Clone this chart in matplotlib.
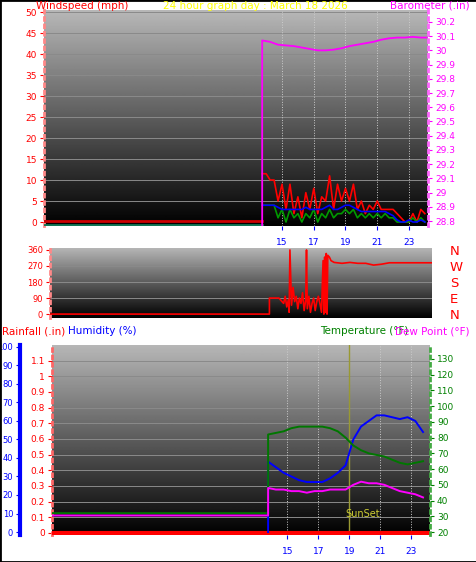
import numpy as np
import matplotlib
matplotlib.use("Agg")
import matplotlib.pyplot as plt

W, H = 477, 562

# --- data ---
hours_q = np.arange(13.75, 24.01, 0.25)          # quarter-hour samples
wind_gust = [11.5,11.5,10,10,5,9,3,9,2,6,1,7,3,8,2,6,5,11,3,9,5,8,5,9,3,5,2,4,3,5,
             3,3,3,3,2,1,0,0,2,0,3,2]
wind_avg = [4,4,4,4,3.5,3,3,3,3,3,3,3.5,3,3,3,3,3.5,4,3,3,3.5,4,4,3.5,3,2.5,2.5,2.5,
            2.5,2.5,2.5,2.5,2,1.5,0.5,0,0,0.5,0,0,0.5,0]
wind_speed = [4,4,4,4,1,3,0,3,1,2,0,2,1,3,0,2,1,3,1,2,2,3,2,3,1,2,1,2,1,2,1,2,1,1,
              0,0,0,0,1,0,1,0]

hours_h = np.arange(13.75, 24.0, 0.5)             # half-hour samples
baro = [30.07,30.06,30.04,30.035,30.03,30.02,30.01,30.0,30.0,30.005,30.015,30.03,
        30.04,30.05,30.06,30.075,30.085,30.09,30.09,30.095,30.09]
temp = [82,83,84,86,87,87,87,87,86,84,80,75,72,70,69,68,66,64,63,64,65]
humidity = [38,35,32,30,28,27,27,27,29,32,36,50,57,60,63,63,62,61,62,60,54]
dewpoint = [48,47,47,46,46,45,46,46,47,47,47,50,52,51,51,50,48,46,45,44,42]

dir_t = [13.9,13.9,14.5,14.8,14.9,15.0,15.1,15.15,15.2,15.3,15.4,15.5,15.6,15.7,15.8,
         15.9,16.0,16.1,16.2,16.25,16.3,16.4,16.5,16.6,16.7,16.8,16.9,17.0,17.1,17.2,
         17.3,17.35,17.4,17.45,17.5,17.55,17.6,17.7,17.8,18.0,18.5,19,19.5,20,20.5,
         21,21.5,22,23,24.2]
dir_v = [0,90,90,60,100,40,80,10,360,50,150,70,100,30,90,60,120,20,80,360,30,100,10,
         60,90,20,70,100,60,10,300,0,320,10,340,0,330,320,300,290,285,290,285,285,275,
         280,288,288,288,288]

hour_ticks = [15, 17, 19, 21, 23]
sunset = 19.0

fig = plt.figure(figsize=(W/100, H/100), dpi=100, facecolor="white")
fig.patches.append(plt.Rectangle((0, 0), 1, 1, transform=fig.transFigure,
                                 fill=False, ec="black", lw=2))

def box(x0, x1, y0, y1):
    return [x0/W, 1-y1/H, (x1-x0)/W, (y1-y0)/H]

grad = np.linspace(0, 0.72, 256).reshape(-1, 1)

def background(ax):
    ax.imshow(grad, cmap="gray", aspect="auto", origin="lower",
              extent=[0, 1, 0, 1], transform=ax.transAxes, zorder=0, vmin=0, vmax=1)
    ax.set_facecolor("black")

def style(ax, col, size=6.5):
    ax.tick_params(colors=col, labelcolor=col, labelsize=size, length=3, pad=2)
    for s in ax.spines.values():
        s.set_visible(False)

TS = 7.5

# ---------- panel 1: wind & barometer ----------
ax1 = fig.add_axes(box(44, 428, 10, 226))
background(ax1)
ax1.set_xlim(0, 24.2)
ax1.set_ylim(-0.95, 50.5)
ax1.set_yticks(range(0, 51, 5))
for y in range(5, 51, 5):
    ax1.axhline(y, color="#8a8a8a", lw=0.7, zorder=1)
for h in hour_ticks:
    ax1.axvline(h, color="#cccccc", lw=0.7, ls=":", zorder=1)
ax1.plot([0, 13.75], [0.2, 0.2], color="#cc0000", lw=2, zorder=3)
ax1.plot([0, 13.75], [-0.6, -0.6], color="#117755", lw=2, zorder=3)
ax1.plot(hours_q, wind_gust, color="red", lw=1.2, zorder=3)
ax1.plot(hours_q, wind_speed, color="#009900", lw=1.2, zorder=4)
ax1.plot(hours_q, wind_avg, color="blue", lw=1.2, zorder=5)
ax1.set_xticks(hour_ticks)
style(ax1, "red")
ax1.tick_params(axis="x", colors="blue", labelcolor="blue", pad=6)
ax1.spines["left"].set_visible(True)
ax1.spines["left"].set_color("#ff8888")
ax1.spines["left"].set_linestyle(":")
ax1.spines["left"].set_linewidth(2)

ax1b = ax1.twinx()
ax1b.set_ylim(28.765, 30.284)
ax1b.plot([13.75] + list(hours_h) + [24.1], [28.7, *baro, 30.09],
          color="#ff00ff", lw=1.3, zorder=5)
ax1b.set_yticks(np.round(np.arange(28.8, 30.21, 0.1), 1))
ax1b.set_yticklabels([f"{v:g}" for v in np.round(np.arange(28.8, 30.21, 0.1), 1)])
style(ax1b, "#ff00ff")
ax1b.spines["right"].set_visible(True)
ax1b.spines["right"].set_color("#ff66ff")
ax1b.spines["right"].set_linestyle(":")
ax1b.spines["right"].set_linewidth(2)

fig.text(36/W, 1-6/H, "Windspeed (mph)", color="red", fontsize=TS, va="center")
fig.text(255/W, 1-6/H, "24 hour graph day : March 18 2026", color="yellow",
         fontsize=TS, ha="center", va="center")
fig.text(470/W, 1-6/H, "Barometer (.in)", color="#ff00ff", fontsize=TS,
         ha="right", va="center")

# ---------- panel 2: wind direction ----------
ax2 = fig.add_axes(box(50, 432, 248, 318))
background(ax2)
ax2.set_xlim(0, 24.2)
ax2.set_ylim(-22, 371)
for y in (90, 180, 270):
    ax2.axhline(y, color="#8a8a8a", lw=0.7, zorder=1)
ax2.plot([0] + dir_t, [0] + dir_v, color="red", lw=1.2, zorder=3)
ax2.set_yticks([0, 90, 180, 270, 360])
ax2.set_xticks([])
style(ax2, "red", 6)
ax2.spines["left"].set_visible(True)
ax2.spines["left"].set_color("#ff8888")
ax2.spines["left"].set_linestyle(":")
ax2.spines["left"].set_linewidth(2)
ax2b = ax2.twinx()
ax2b.set_ylim(-22, 371)
ax2b.set_yticks([0, 90, 180, 270, 360])
ax2b.set_yticklabels(["N", "E", "S", "W", "N"])
ax2b.tick_params(length=0, labelcolor="red", labelsize=9.5, pad=13)
for s in ax2b.spines.values():
    s.set_visible(False)

fig.text(2/W, 1-331/H, "Rainfall (.in)", color="red", fontsize=TS, va="center")
fig.text(68/W, 1-331/H, "Humidity (%)", color="blue", fontsize=TS, va="center")
fig.text(320/W, 1-331/H, "Temperature (°F)", color="green", fontsize=TS, va="center")
fig.text(470/W, 1-331/H, "Dew Point (°F)", color="#ff00ff", fontsize=TS,
         ha="right", va="center")

# ---------- panel 3: rain / humidity / temperature ----------
ax3 = fig.add_axes(box(52, 430, 345, 535))
background(ax3)
ax3.set_xlim(-0.2, 24.2)
ax3.set_ylim(-0.013, 1.2)
ax3.set_yticks(np.round(np.arange(0, 1.11, 0.1), 1))
ax3.set_yticklabels([f"{v:g}" for v in np.round(np.arange(0, 1.11, 0.1), 1)])
for y in np.arange(0.1, 1.11, 0.1):
    ax3.axhline(y, color="#8a8a8a", lw=0.7, zorder=1)
for h in hour_ticks:
    ax3.axvline(h, color="#cccccc", lw=0.7, ls=":", zorder=1)
ax3.axvline(sunset, color="#999933", lw=1, zorder=2)
ax3.text(sunset - 0.25, 0.1, "SunSet", color="#cccc33", fontsize=7, ha="left", zorder=6)
ax3.plot([-0.2, 24.2], [0, 0], color="red", lw=3, zorder=6)
ax3.set_xticks(hour_ticks)
style(ax3, "red")
ax3.tick_params(axis="x", colors="blue", labelcolor="blue", pad=6)
ax3.spines["left"].set_visible(True)
ax3.spines["left"].set_color("#ff6666")
ax3.spines["left"].set_linestyle(":")
ax3.spines["left"].set_linewidth(2)

ax3h = ax3.twinx()
ax3h.set_ylim(-1.6, 101)
ax3h.plot([13.75] + list(hours_h), [0] + humidity, color="blue", lw=1.4, zorder=4)
ax3h.yaxis.set_ticks_position("left")
ax3h.yaxis.set_label_position("left")
ax3h.set_yticks(range(0, 101, 10))
style(ax3h, "blue", 6)
ax3h.spines["left"].set_visible(True)
ax3h.spines["left"].set_position(("outward", 23))
ax3h.spines["left"].set_color("blue")
ax3h.spines["left"].set_linewidth(3)

ax3t = ax3.twinx()
ax3t.set_ylim(18.1, 138.9)
ax3t.plot([-0.2, 13.75] + list(hours_h), [32, 32] + temp, color="#007700", lw=1.4)
ax3t.plot([-0.2, 13.75] + list(hours_h), [30.5, 30.5] + dewpoint, color="#ff00ff", lw=1.4)
ax3t.set_yticks(range(20, 131, 10))
style(ax3t, "green")
ax3t.spines["right"].set_visible(True)
ax3t.spines["right"].set_color("#44aa44")
ax3t.spines["right"].set_linestyle(":")
ax3t.spines["right"].set_linewidth(2)

fig.savefig("out.png", dpi=100, facecolor="white")
